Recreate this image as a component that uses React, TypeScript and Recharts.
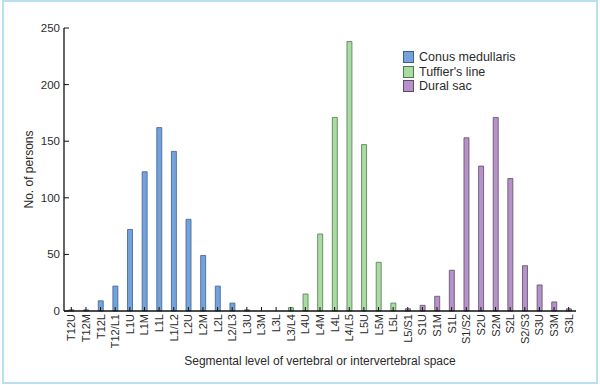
import { Bar, BarChart, Legend, XAxis, YAxis } from "recharts";

const categories = [
  "T12U", "T12M", "T12L", "T12/L1", "L1U", "L1M", "L1L", "L1/L2", "L2U", "L2M", "L2L", "L2/L3",
  "L3U", "L3M", "L3L", "L3/L4", "L4U", "L4M", "L4L", "L4/L5", "L5U", "L5M", "L5L", "L5/S1",
  "S1U", "S1M", "S1L", "S1/S2", "S2U", "S2M", "S2L", "S2/S3", "S3U", "S3M", "S3L",
];

const conus = [1, 1, 9, 22, 72, 123, 162, 141, 81, 49, 22, 7, 1, 0, 0, 0, 0, 0, 0, 0, 0, 0, 0, 0, 0, 0, 0, 0, 0, 0, 0, 0, 0, 0, 0];
const tuffier = [0, 0, 0, 0, 0, 0, 0, 0, 0, 0, 0, 0, 0, 0, 0, 3, 15, 68, 171, 238, 147, 43, 7, 0, 0, 0, 0, 0, 0, 0, 0, 0, 0, 0, 0];
const dural = [0, 0, 0, 0, 0, 0, 0, 0, 0, 0, 0, 0, 0, 0, 0, 0, 0, 0, 0, 0, 0, 0, 0, 2, 5, 13, 36, 153, 128, 171, 117, 40, 23, 8, 2];

const yTicks = [0, 50, 100, 150, 200, 250];

const series = [
  { key: "conus", name: "Conus medullaris", fill: "#74a3dc", stroke: "#3d5f8f" },
  { key: "tuffier", name: "Tuffier's line", fill: "#a9dba3", stroke: "#4f7a4c" },
  { key: "dural", name: "Dural sac", fill: "#b792c9", stroke: "#5c4a69" },
];

const data = categories.map((c, i) => ({ cat: c, conus: conus[i], tuffier: tuffier[i], dural: dural[i] }));

const font = "'Liberation Sans', Arial, sans-serif";
const ink = "#2b2b2b";

function XTick({ x, y, payload }: any) {
  return (
    <text
      x={x}
      y={y}
      transform={`rotate(-90 ${x} ${y})`}
      textAnchor="end"
      dominantBaseline="central"
      fontSize={11}
      fontFamily={font}
      fill={ink}
    >
      {payload.value}
    </text>
  );
}

function LegendBox() {
  return (
    <div style={{ fontFamily: font, fontSize: 12.5, color: ink }}>
      {series.map((s) => (
        <div key={s.key} style={{ display: "flex", alignItems: "center", height: 14.5 }}>
          <span
            style={{
              display: "inline-block",
              width: 9,
              height: 10,
              background: s.fill,
              border: `1px solid ${s.stroke}`,
              marginRight: 5,
            }}
          />
          {s.name}
        </div>
      ))}
    </div>
  );
}

export default function App() {
  return (
    <div style={{ position: "absolute", left: 0, top: 0, width: 600, height: 385, background: "#fff" }}>
      <div
        style={{
          position: "absolute",
          left: 2,
          top: 0,
          width: 592,
          height: 380,
          border: "2px solid #b8e0f0",
          boxSizing: "content-box",
        }}
      />
      <div style={{ position: "absolute", left: 0, top: 0 }}>
        <BarChart width={600} height={385} data={data} margin={{ top: 28, right: 24, left: 24, bottom: 18 }}>
          <XAxis
            dataKey="cat"
            interval={0}
            height={56}
            tick={<XTick />}
            tickSize={-4}
            tickMargin={7}
            axisLine={{ stroke: "#111", strokeWidth: 1.3 }}
            tickLine={{ stroke: "#111" }}
            label={{
              value: "Segmental level of vertebral or intervertebral space",
              position: "insideBottom",
              offset: 2,
              fontSize: 12,
              fontFamily: font,
              fill: ink,
            }}
          />
          <YAxis
            width={40}
            domain={[0, 250]}
            ticks={yTicks}
            interval={0}
            tickSize={-5}
            tickMargin={9}
            tick={{ fontSize: 11.5, fontFamily: font, fill: ink }}
            axisLine={{ stroke: "#111", strokeWidth: 1.3 }}
            tickLine={{ stroke: "#111" }}
            label={{
              value: "No. of persons",
              angle: -90,
              position: "insideLeft",
              offset: 5,
              style: { textAnchor: "middle" },
              fontSize: 12,
              fontFamily: font,
              fill: ink,
            }}
          />
          <Legend
            layout="vertical"
            align="center"
            verticalAlign="middle"
            content={<LegendBox />}
            wrapperStyle={{ left: 403, top: 50, width: 160 }}
          />
          {series.map((s) => (
            <Bar
              key={s.key}
              dataKey={s.key}
              name={s.name}
              stackId="a"
              barSize={5}
              fill={s.fill}
              stroke={s.stroke}
              strokeWidth={0.8}
              isAnimationActive={false}
            />
          ))}
        </BarChart>
      </div>
    </div>
  );
}
